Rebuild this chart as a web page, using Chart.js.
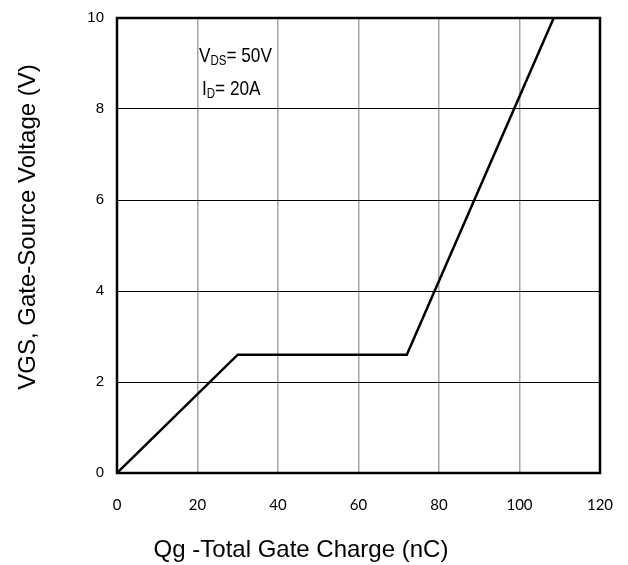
<!DOCTYPE html>
<html>
<head>
<meta charset="utf-8">
<script src="https://cdn.jsdelivr.net/npm/chart.js@4/dist/chart.umd.min.js"></script>
<style>
  html, body { margin: 0; padding: 0; background: #fff; }
  #wrap { width: 628px; height: 565px; }
</style>
</head>
<body>
<div id="wrap"><canvas id="gateChart" width="628" height="565"></canvas></div>
<script>
// Gate charge curve
const chargeNC = [0, 30, 72, 108.5];
const vgsVolts = [0, 2.6, 2.6, 10];
const xTicks = [0, 20, 40, 60, 80, 100, 120];
const yTicks = [0, 2, 4, 6, 8, 10];
const xTitle = 'Qg -Total Gate Charge (nC)';
const yTitle = 'VGS, Gate-Source Voltage (V)';

const sans = "'Liberation Sans', Arial, sans-serif";

// draws text squeezed horizontally to mimic a narrow face
function narrowText(ctx, str, x, y, size) {
    ctx.save();
    ctx.font = size + 'px ' + sans;
    ctx.translate(x, y);
    ctx.scale(0.82, 1);
    ctx.fillText(str, 0, 0);
    const w = ctx.measureText(str).width * 0.82;
    ctx.restore();
    return w;
}

// frame, axis titles and test condition label
const framePlugin = {
    id: 'frame',
    afterDatasetsDraw(chart) {
        const { ctx, chartArea: a } = chart;
        ctx.save();
        ctx.strokeStyle = '#000';
        ctx.lineWidth = 2.5;
        ctx.strokeRect(a.left, a.top, a.right - a.left, a.bottom - a.top);

        ctx.fillStyle = '#000';
        ctx.textBaseline = 'alphabetic';
        ctx.textAlign = 'left';
        let x = 199, y = 62;
        x += narrowText(ctx, 'V', x, y, 21);
        x += narrowText(ctx, 'DS', x, y + 3, 14);
        narrowText(ctx, '= 50V', x, y, 21);

        x = 202; y = 95;
        x += narrowText(ctx, 'I', x, y, 21);
        x += narrowText(ctx, 'D', x, y + 3, 14);
        narrowText(ctx, '= 20A', x, y, 21);

        // axis titles (sit a bit left of the plot centre in the original)
        ctx.font = '24px ' + sans;
        ctx.textAlign = 'center';
        ctx.fillText(xTitle, 301, 557);
        ctx.translate(35, 227);
        ctx.rotate(-Math.PI / 2);
        ctx.fillText(yTitle, 0, 0);
        ctx.restore();
    }
};

new Chart(document.getElementById('gateChart'), {
    type: 'scatter',
    data: {
        datasets: [{
            data: chargeNC.map((q, i) => ({ x: q, y: vgsVolts[i] })),
            showLine: true,
            borderColor: '#000',
            borderWidth: 2.5,
            pointRadius: 0,
            tension: 0
        }]
    },
    options: {
        responsive: false,
        animation: false,
        layout: { padding: { top: 18, right: 28, left: 0, bottom: 0 } },
        plugins: { legend: { display: false }, tooltip: { enabled: false } },
        scales: {
            x: {
                type: 'linear',
                min: 0, max: 120,
                afterBuildTicks: s => { s.ticks = xTicks.map(v => ({ value: v })); },
                afterFit: s => { s.height = 92; s.paddingLeft = 0; s.paddingRight = 0; },
                grid: { color: '#a6a6a6', lineWidth: 1.5, drawTicks: false },
                border: { display: false },
                ticks: {
                    padding: 23,
                    color: '#000',
                    font: { family: "Lato, 'Open Sans', sans-serif", size: 15 }
                }
            },
            y: {
                type: 'linear',
                min: 0, max: 10,
                afterBuildTicks: s => { s.ticks = yTicks.map(v => ({ value: v })); },
                afterFit: s => { s.width = 117; s.paddingTop = 0; s.paddingBottom = 0; },
                grid: { color: '#000', lineWidth: 1, drawTicks: false },
                border: { display: false },
                ticks: {
                    padding: 13,
                    color: '#000',
                    font: { family: sans, size: 15 }
                }
            }
        }
    },
    plugins: [framePlugin]
});
</script>
</body>
</html>
